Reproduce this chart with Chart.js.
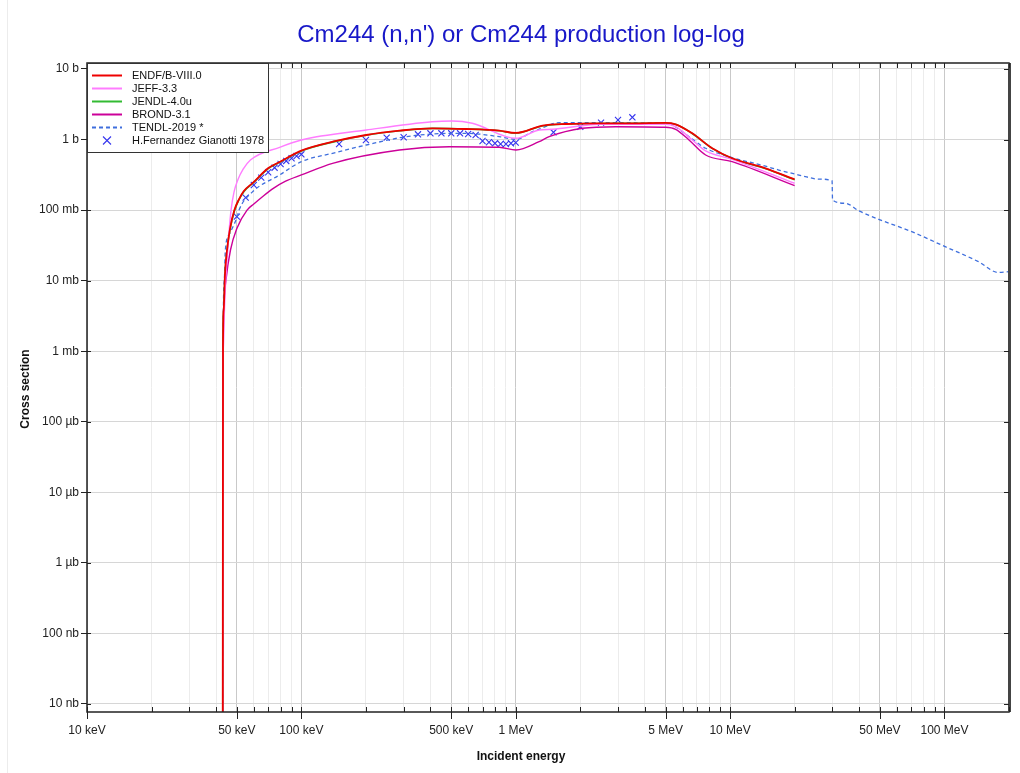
<!DOCTYPE html>
<html>
<head>
<meta charset="utf-8">
<script src="https://cdn.jsdelivr.net/npm/chart.js@4.4.1/dist/chart.umd.min.js"></script>
<style>
  html, body { margin: 0; padding: 0; background: #fff; }
</style>
</head>
<body>
<canvas id="chart" width="1020" height="773"></canvas>
<script>
// energies in MeV, cross sections in barns
const titleText = "Cm244 (n,n') or Cm244 production log-log";

const endfE = [0.04297, 0.04310, 0.04340, 0.0440, 0.0450, 0.0465, 0.0487, 0.0510, 0.0538, 0.0595, 0.0699, 0.0792, 0.100, 0.1455, 0.2007, 0.287, 0.408, 0.586, 0.838, 1.0, 1.333, 1.713, 2.448, 3.49, 5.0, 5.57, 6.66, 8.25, 10.22, 14.62, 20.0];
const endfS = [1e-9, 0.0012, 0.0038, 0.012, 0.0272, 0.055, 0.100, 0.140, 0.185, 0.245, 0.391, 0.481, 0.695, 0.954, 1.16, 1.335, 1.444, 1.411, 1.335, 1.24, 1.572, 1.662, 1.70, 1.70, 1.72, 1.645, 1.226, 0.752, 0.543, 0.391, 0.273];

const jeffE = [0.04297, 0.04310, 0.0433, 0.04377, 0.0445, 0.04535, 0.0460, 0.04699, 0.0485, 0.0505, 0.0535, 0.05785, 0.0792, 0.100, 0.2007, 0.408, 0.506, 0.627, 1.002, 1.286, 1.484, 2.047, 2.448, 5.0, 5.57, 6.66, 7.69, 10.22, 20.0];
const jeffS = [1e-9, 0.0004, 0.0012, 0.0038, 0.012, 0.0272, 0.05, 0.100, 0.18, 0.267, 0.38, 0.513, 0.777, 0.986, 1.366, 1.79, 1.832, 1.70, 1.042, 1.366, 1.398, 1.572, 1.645, 1.645, 1.521, 0.986, 0.689, 0.525, 0.240];

const jendlE = [0.04297, 0.04312, 0.04342, 0.0440, 0.0450, 0.0465, 0.0488, 0.0511, 0.0540, 0.0596, 0.0700, 0.0795, 0.100, 0.146, 0.200, 0.290, 0.410, 0.590, 0.840, 1.0, 1.33, 1.72, 2.45, 3.50, 5.0, 5.60, 6.65, 8.25, 10.2, 14.6, 20.0];
const jendlS = [1e-9, 0.0012, 0.0037, 0.0118, 0.0268, 0.054, 0.099, 0.139, 0.184, 0.243, 0.388, 0.478, 0.690, 0.950, 1.15, 1.33, 1.44, 1.41, 1.33, 1.23, 1.56, 1.66, 1.69, 1.70, 1.71, 1.63, 1.22, 0.750, 0.540, 0.388, 0.270];

const brondE = [0.04297, 0.0432, 0.0434, 0.0445, 0.0467, 0.0500, 0.0558, 0.0600, 0.0667, 0.0743, 0.0840, 0.100, 0.1398, 0.2868, 0.490, 0.838, 1.002, 1.286, 1.432, 2.047, 2.928, 5.0, 5.57, 6.43, 7.69, 10.22, 20.0];
const brondS = [1e-9, 0.001, 0.0038, 0.0102, 0.0272, 0.055, 0.100, 0.122, 0.160, 0.205, 0.255, 0.315, 0.46, 0.711, 0.792, 0.777, 0.711, 0.933, 1.098, 1.444, 1.521, 1.492, 1.398, 0.986, 0.604, 0.486, 0.222];

const tendlE = [0.04297, 0.0432, 0.0437, 0.0442, 0.0463, 0.0502, 0.0512, 0.0590, 0.0792, 0.100, 0.1398, 0.2007, 0.296, 0.408, 0.586, 0.838, 1.002, 1.197, 1.286, 1.594, 2.448, 5.0, 5.37, 6.43, 7.69, 9.87, 14.62, 16.87, 20.0, 22.45, 25.9, 29.9, 30.05, 34.5, 39.8, 49.3, 70.4, 100.8, 144, 178, 200];
const tendlS = [1e-9, 0.002, 0.01, 0.0272, 0.0467, 0.0807, 0.100, 0.18, 0.315, 0.486, 0.639, 0.837, 1.077, 1.199, 1.226, 1.098, 1.009, 1.292, 1.40, 1.734, 1.734, 1.70, 1.608, 1.098, 0.752, 0.572, 0.42, 0.37, 0.325, 0.298, 0.275, 0.261, 0.139, 0.125, 0.098, 0.0741, 0.0494, 0.0303, 0.0186, 0.0131, 0.0134];

const expE = [0.050, 0.055, 0.060, 0.065, 0.070, 0.075, 0.080, 0.085, 0.090, 0.095, 0.100, 0.150, 0.200, 0.250, 0.300, 0.350, 0.400, 0.450, 0.500, 0.550, 0.600, 0.650, 0.700, 0.750, 0.800, 0.850, 0.900, 0.950, 1.000, 1.5, 2.0, 2.5, 3.0, 3.5];
const expS = [0.0807, 0.150, 0.227, 0.288, 0.344, 0.399, 0.450, 0.497, 0.543, 0.585, 0.618, 0.865, 0.986, 1.063, 1.077, 1.187, 1.226, 1.226, 1.226, 1.226, 1.199, 1.16, 0.954, 0.915, 0.885, 0.865, 0.865, 0.885, 0.903, 1.267, 1.521, 1.734, 1.893, 2.068];

const xTickValues = [0.01, 0.05, 0.1, 0.5, 1, 5, 10, 50, 100];
const xTickLabels = ["10 keV", "50 keV", "100 keV", "500 keV", "1 MeV", "5 MeV", "10 MeV", "50 MeV", "100 MeV"];
const yTickValues = [1e-8, 1e-7, 1e-6, 1e-5, 1e-4, 1e-3, 1e-2, 1e-1, 1, 10];
const yTickLabels = ["10 nb", "100 nb", "1 µb", "10 µb", "100 µb", "1 mb", "10 mb", "100 mb", "1 b", "10 b"];

const FONT = '"Liberation Sans", Arial, sans-serif';

const pts = (xs, ys) => xs.map((x, i) => ({ x: x, y: ys[i] }));
const sameVal = (a, b) => Math.abs(a - b) / b < 1e-6;
const isLabeled = (v) => xTickValues.some((t) => sameVal(v, t));

// minor grid every 1..9 x decade
const xGrid = [];
for (let d = 0.01; d < 200; d *= 10) {
  for (let m = 1; m <= 9; m++) {
    const v = +(d * m).toPrecision(6);
    if (v <= 200) xGrid.push(v);
  }
}
xGrid.push(200);

const decor = {
  id: "decor",
  beforeDraw(chart) {
    const c = chart.ctx;
    c.save();
    c.fillStyle = "#fff";
    c.fillRect(0, 0, chart.width, chart.height);
    c.strokeStyle = "#ececec";
    c.lineWidth = 1;
    c.beginPath();
    c.moveTo(7.5, 0);
    c.lineTo(7.5, chart.height);
    c.stroke();
    c.restore();
  },
  afterDraw(chart) {
    const c = chart.ctx;
    const a = chart.chartArea;
    const xs = chart.scales.x;
    const ys = chart.scales.y;
    c.save();

    // frame
    c.strokeStyle = "#222";
    c.lineWidth = 1.5;
    c.strokeRect(a.left, a.top, a.right - a.left, a.bottom - a.top);
    c.fillStyle = "#444";
    c.fillRect(a.right - 1, a.top, 3, a.bottom - a.top);

    // x ticks, inward at bottom and top
    c.lineWidth = 1;
    c.beginPath();
    xGrid.forEach((v) => {
      const px = Math.round(xs.getPixelForValue(v)) + 0.5;
      const lab = isLabeled(v);
      c.moveTo(px, a.bottom - 5);
      c.lineTo(px, lab ? a.bottom + 7 : a.bottom);
      c.moveTo(px, a.top);
      c.lineTo(px, a.top + 5);
    });
    // y ticks, inward at right and left
    yTickValues.forEach((v) => {
      const py = Math.round(ys.getPixelForValue(v)) + 0.5;
      c.moveTo(a.right - 5, py);
      c.lineTo(a.right, py);
      c.moveTo(a.left, py);
      c.lineTo(a.left + 4, py);
    });
    c.stroke();

    // title
    c.fillStyle = "#1818c8";
    c.font = "24px " + FONT;
    c.textAlign = "center";
    c.textBaseline = "alphabetic";
    c.fillText(titleText, 521, 42);

    // axis titles
    c.textBaseline = "middle";
    c.fillStyle = "#111";
    c.font = "bold 12px " + FONT;
    c.fillText("Incident energy", 521, 757);
    c.save();
    c.translate(26, 389);
    c.rotate(-Math.PI / 2);
    c.fillText("Cross section", 0, 0);
    c.restore();

    // legend
    const lx = a.left, ly = a.top, lw = 181, lh = 89;
    c.fillStyle = "#fff";
    c.fillRect(lx, ly, lw, lh);
    c.strokeStyle = "#333";
    c.lineWidth = 1;
    c.strokeRect(lx + 0.5, ly + 0.5, lw, lh);
    c.font = "11px " + FONT;
    c.textAlign = "left";
    chart.data.datasets.forEach((ds, i) => {
      const yy = ly + 12.5 + i * 13;
      if (ds.showLine === false) {
        c.strokeStyle = ds.borderColor;
        c.lineWidth = 1.1;
        c.beginPath();
        c.moveTo(lx + 16, yy - 4);
        c.lineTo(lx + 24, yy + 4);
        c.moveTo(lx + 24, yy - 4);
        c.lineTo(lx + 16, yy + 4);
        c.stroke();
      } else {
        c.strokeStyle = ds.borderColor;
        c.lineWidth = 2;
        c.setLineDash(ds.borderDash || []);
        c.beginPath();
        c.moveTo(lx + 5, yy);
        c.lineTo(lx + 35, yy);
        c.stroke();
        c.setLineDash([]);
      }
      c.fillStyle = "#111";
      c.fillText(ds.label, lx + 45, yy);
    });

    c.restore();
  },
};

const lineDs = (label, xs, ys, color, width, dash) => ({
  label: label,
  data: pts(xs, ys),
  borderColor: color,
  backgroundColor: color,
  borderWidth: width,
  borderDash: dash || [],
  pointRadius: 0,
  fill: false,
  cubicInterpolationMode: "monotone",
});

new Chart(document.getElementById("chart"), {
  type: "line",
  data: {
    datasets: [
      lineDs("ENDF/B-VIII.0", endfE, endfS, "#ee0000", 1.8),
      lineDs("JEFF-3.3", jeffE, jeffS, "#ff7cff", 1.4),
      lineDs("JENDL-4.0u", jendlE, jendlS, "#33bb33", 1.6),
      lineDs("BROND-3.1", brondE, brondS, "#cc0099", 1.4),
      lineDs("TENDL-2019 *", tendlE, tendlS, "#3f6fdd", 1.3, [4, 3]),
      {
        label: "H.Fernandez Gianotti 1978",
        data: pts(expE, expS),
        showLine: false,
        pointStyle: "crossRot",
        pointRadius: 4.3,
        borderColor: "#3535ee",
        backgroundColor: "#3535ee",
        borderWidth: 1.1,
      },
    ],
  },
  options: {
    responsive: false,
    animation: false,
    devicePixelRatio: 1,
    layout: { padding: { top: 63, right: 10, left: 0, bottom: 0 } },
    plugins: { legend: { display: false }, tooltip: { enabled: false }, title: { display: false } },
    scales: {
      x: {
        type: "logarithmic",
        min: 0.01,
        max: 200,
        afterFit: (s) => { s.height = 61; },
        afterBuildTicks: (s) => { s.ticks = xGrid.map((v) => ({ value: v })); },
        border: { display: false },
        grid: {
          drawTicks: false,
          color: (ctx) => (ctx.tick && isLabeled(ctx.tick.value) ? "#c9c9c9" : "#ececec"),
          lineWidth: 1,
        },
        ticks: {
          autoSkip: false,
          maxRotation: 0,
          padding: 11,
          color: "#222",
          font: { family: FONT, size: 12 },
          callback: (v) => {
            const i = xTickValues.findIndex((t) => sameVal(v, t));
            return i >= 0 ? xTickLabels[i] : "";
          },
        },
      },
      y: {
        type: "logarithmic",
        min: 7.7e-9,
        max: 12.16,
        afterFit: (s) => { s.width = 87; },
        afterBuildTicks: (s) => { s.ticks = yTickValues.map((v) => ({ value: v })); },
        border: { display: false },
        grid: { color: "#d6d6d6", tickColor: "#222", tickLength: 6, lineWidth: 1 },
        ticks: {
          autoSkip: false,
          padding: 2,
          color: "#222",
          font: { family: FONT, size: 12 },
          callback: (v) => {
            const i = yTickValues.findIndex((t) => sameVal(v, t));
            return i >= 0 ? yTickLabels[i] : "";
          },
        },
      },
    },
  },
  plugins: [decor],
});
</script>
</body>
</html>
